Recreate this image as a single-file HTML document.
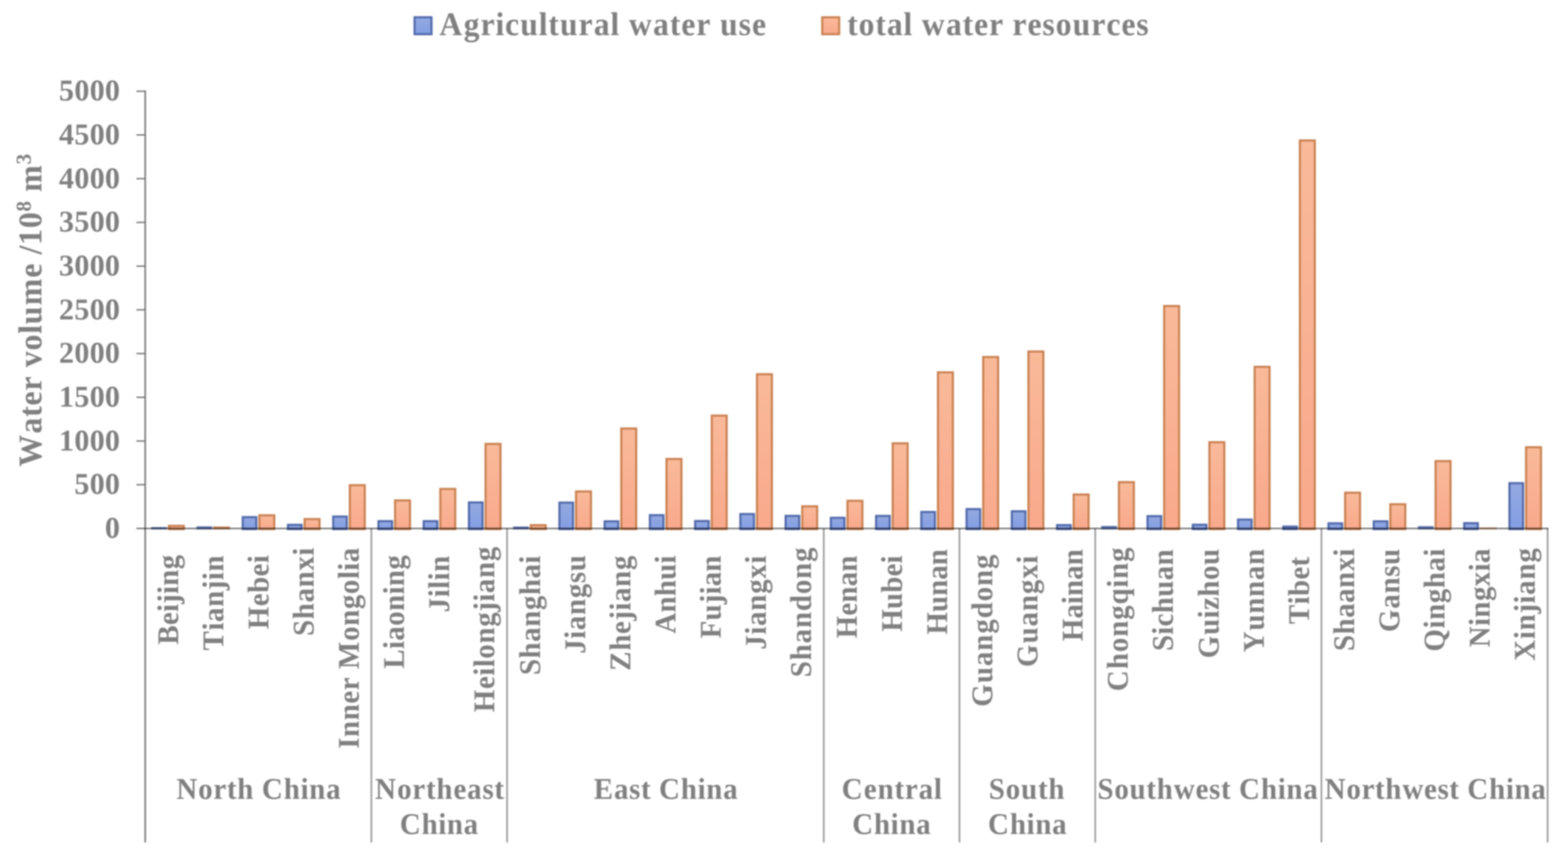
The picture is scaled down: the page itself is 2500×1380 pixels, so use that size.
<!DOCTYPE html>
<html lang="en">
<head>
<meta charset="utf-8">
<title>Agricultural water use and total water resources</title>
<style>
html,body{margin:0;padding:0;background:#fff;}
body{width:2500px;height:1380px;overflow:hidden;}
svg{display:block;position:absolute;left:0;top:0;filter:blur(1.15px);}
text{text-rendering:geometricPrecision;font-family:"Liberation Serif","Times New Roman",serif;font-weight:bold;fill:#808080;white-space:pre;}
.ax{stroke:#767676;stroke-width:2.5;fill:none;}
.sp{stroke:#969696;stroke-width:2.5;fill:none;}
.tk{stroke:#6a6a6a;stroke-width:2;fill:none;}
.bl{stroke:#707070;stroke-width:2.1;fill:none;mix-blend-mode:multiply;}
.b1{fill:url(#gb);stroke:#5169ab;stroke-width:3.3;}
.b2{fill:url(#go);stroke:#c98050;stroke-width:3.3;}
</style>
</head>
<body>
<svg width="2500" height="1380" viewBox="0 0 2500 1380">
<defs>
<linearGradient id="gb" x1="0" y1="0" x2="0" y2="1"><stop offset="0" stop-color="#93a9e0"/><stop offset="1" stop-color="#839ee3"/></linearGradient>
<linearGradient id="go" x1="0" y1="0" x2="0" y2="1"><stop offset="0" stop-color="#f9ba9a"/><stop offset="1" stop-color="#f9a98c"/></linearGradient>
</defs>
<rect x="0" y="0" width="2500" height="1380" fill="#ffffff"/>
<g>
<rect class="b1" x="661" y="27.5" width="27" height="27"/>
<text font-size="52.5" transform="translate(699.30,56.00) scale(0.960,1)" x="1.39 41.67 69.74 94.43 110.41 135.65 166.46 182.22 201.42 232.55 257.67 285.42 301.03 316.03 356.30 384.16 403.15 428.16 452.80 467.48 498.51 520.55">Agricultural water use</text>
<rect class="b2" x="1311" y="27.5" width="27" height="27"/>
<text font-size="52.5" transform="translate(1350.20,56.00) scale(0.960,1)" x="0.61 19.60 47.37 66.36 94.03 109.57 124.47 164.60 192.37 211.26 236.18 260.74 275.13 300.04 324.86 346.91 375.08 406.09 431.01 455.93 480.74">total water resources</text>
</g>
<g>
<text font-size="53" transform="translate(66.00,745.20) rotate(-90) scale(0.960,1)" x="1.41 56.53 84.21 102.96 127.74 152.24 166.55 194.47 222.07 237.97 269.41 315.37 339.87 353.87 369.69 397.61">Water volume /10</text>
<text font-size="34" transform="translate(49.00,337.38) rotate(-90)" x="0.10">8</text>
<text font-size="53" transform="translate(66.00,320.19) rotate(-90) scale(0.960,1)" x="0.35 15.13"> m</text>
<text font-size="34" transform="translate(49.00,262.14) rotate(-90)" x="0.10">3</text>
</g>
<g>
<text font-size="48" transform="translate(191.60,856.90)" x="-24.24">0</text>
<text font-size="48" transform="translate(191.60,787.23)" x="-73.20 -48.72 -24.24">500</text>
<text font-size="48" transform="translate(191.60,717.55)" x="-97.68 -73.20 -48.72 -24.24">1000</text>
<text font-size="48" transform="translate(191.60,647.88)" x="-97.68 -73.20 -48.72 -24.24">1500</text>
<text font-size="48" transform="translate(191.60,578.20)" x="-97.68 -73.20 -48.72 -24.24">2000</text>
<text font-size="48" transform="translate(191.60,508.53)" x="-97.68 -73.20 -48.72 -24.24">2500</text>
<text font-size="48" transform="translate(191.60,438.85)" x="-97.68 -73.20 -48.72 -24.24">3000</text>
<text font-size="48" transform="translate(191.60,369.18)" x="-97.68 -73.20 -48.72 -24.24">3500</text>
<text font-size="48" transform="translate(191.60,299.50)" x="-97.68 -73.20 -48.72 -24.24">4000</text>
<text font-size="48" transform="translate(191.60,229.82)" x="-97.68 -73.20 -48.72 -24.24">4500</text>
<text font-size="48" transform="translate(191.60,160.15)" x="-97.68 -73.20 -48.72 -24.24">5000</text>
</g>
<g>
<rect x="241.1" y="839.9" width="25.0" height="3.6" fill="#5169ab" fill-opacity="0.9"/>
<rect class="b2" x="269.25" y="837.95" width="23.80" height="5.15"/>
<rect x="313.2" y="838.7" width="25.0" height="4.8" fill="#5169ab" fill-opacity="0.9"/>
<rect x="339.7" y="838.9" width="27.1" height="4.6" fill="#c98050" fill-opacity="0.9"/>
<rect class="b1" x="387.01" y="824.05" width="21.70" height="19.05"/>
<rect class="b2" x="413.51" y="821.15" width="23.80" height="21.95"/>
<rect class="b1" x="459.14" y="836.35" width="21.70" height="6.75"/>
<rect class="b2" x="485.64" y="827.15" width="23.80" height="15.95"/>
<rect class="b1" x="531.27" y="823.15" width="21.70" height="19.95"/>
<rect class="b2" x="557.77" y="773.15" width="23.80" height="69.95"/>
<rect class="b1" x="603.40" y="830.45" width="21.70" height="12.65"/>
<rect class="b2" x="629.90" y="797.45" width="23.80" height="45.65"/>
<rect class="b1" x="675.53" y="830.45" width="21.70" height="12.65"/>
<rect class="b2" x="702.03" y="779.15" width="23.80" height="63.95"/>
<rect class="b1" x="747.66" y="800.65" width="21.70" height="42.45"/>
<rect class="b2" x="774.16" y="707.35" width="23.80" height="135.75"/>
<rect x="818.1" y="839.0" width="25.0" height="4.5" fill="#5169ab" fill-opacity="0.9"/>
<rect class="b2" x="846.29" y="836.85" width="23.80" height="6.25"/>
<rect class="b1" x="891.92" y="800.95" width="21.70" height="42.15"/>
<rect class="b2" x="918.42" y="783.15" width="23.80" height="59.95"/>
<rect class="b1" x="964.05" y="830.75" width="21.70" height="12.35"/>
<rect class="b2" x="990.55" y="682.85" width="23.80" height="160.25"/>
<rect class="b1" x="1036.18" y="820.95" width="21.70" height="22.15"/>
<rect class="b2" x="1062.68" y="731.35" width="23.80" height="111.75"/>
<rect class="b1" x="1108.31" y="830.25" width="21.70" height="12.85"/>
<rect class="b2" x="1134.81" y="662.25" width="23.80" height="180.85"/>
<rect class="b1" x="1180.44" y="819.15" width="21.70" height="23.95"/>
<rect class="b2" x="1206.94" y="596.35" width="23.80" height="246.75"/>
<rect class="b1" x="1252.57" y="822.05" width="21.70" height="21.05"/>
<rect class="b2" x="1279.07" y="806.85" width="23.80" height="36.25"/>
<rect class="b1" x="1324.70" y="825.15" width="21.70" height="17.95"/>
<rect class="b2" x="1351.20" y="798.05" width="23.80" height="45.05"/>
<rect class="b1" x="1396.83" y="822.15" width="21.70" height="20.95"/>
<rect class="b2" x="1423.33" y="706.45" width="23.80" height="136.65"/>
<rect class="b1" x="1468.96" y="815.85" width="21.70" height="27.25"/>
<rect class="b2" x="1495.46" y="593.35" width="23.80" height="249.75"/>
<rect class="b1" x="1541.09" y="811.25" width="21.70" height="31.85"/>
<rect class="b2" x="1567.59" y="568.95" width="23.80" height="274.15"/>
<rect class="b1" x="1613.22" y="814.75" width="21.70" height="28.35"/>
<rect class="b2" x="1639.72" y="560.15" width="23.80" height="282.95"/>
<rect class="b1" x="1685.35" y="836.75" width="21.70" height="6.35"/>
<rect class="b2" x="1711.85" y="788.05" width="23.80" height="55.05"/>
<rect x="1755.8" y="838.0" width="25.0" height="5.5" fill="#5169ab" fill-opacity="0.9"/>
<rect class="b2" x="1783.98" y="768.35" width="23.80" height="74.75"/>
<rect class="b1" x="1829.61" y="822.45" width="21.70" height="20.65"/>
<rect class="b2" x="1856.11" y="487.65" width="23.80" height="355.45"/>
<rect class="b1" x="1901.74" y="836.15" width="21.70" height="6.95"/>
<rect class="b2" x="1928.24" y="704.65" width="23.80" height="138.45"/>
<rect class="b1" x="1973.87" y="827.95" width="21.70" height="15.15"/>
<rect class="b2" x="2000.37" y="584.55" width="23.80" height="258.55"/>
<rect class="b1" x="2046.00" y="839.15" width="21.70" height="3.95"/>
<rect class="b2" x="2072.50" y="223.85" width="23.80" height="619.25"/>
<rect class="b1" x="2118.13" y="833.95" width="21.70" height="9.15"/>
<rect class="b2" x="2144.63" y="785.15" width="23.80" height="57.95"/>
<rect class="b1" x="2190.26" y="830.75" width="21.70" height="12.35"/>
<rect class="b2" x="2216.76" y="803.55" width="23.80" height="39.55"/>
<rect x="2260.7" y="838.4" width="25.0" height="5.1" fill="#5169ab" fill-opacity="0.9"/>
<rect class="b2" x="2288.89" y="734.75" width="23.80" height="108.35"/>
<rect class="b1" x="2334.52" y="833.65" width="21.70" height="9.45"/>
<rect x="2359.4" y="840.5" width="27.1" height="3.0" fill="#c98050" fill-opacity="0.7"/>
<rect class="b1" x="2406.65" y="769.95" width="21.70" height="73.15"/>
<rect class="b2" x="2433.15" y="712.65" width="23.80" height="130.45"/>
</g>
<g class="ax">
<path d="M231.5 144.1 V1342.5"/>
</g>
<g class="sp">
<path d="M592.1 842.1 V1342.5"/>
<path d="M808.5 842.1 V1342.5"/>
<path d="M1313.4 842.1 V1342.5"/>
<path d="M1529.8 842.1 V1342.5"/>
<path d="M1746.2 842.1 V1342.5"/>
<path d="M2106.9 842.1 V1342.5"/>
<path d="M2467.5 842.1 V1342.5"/>
</g>
<g class="tk">
<path d="M217.5 772.4 H231.5"/>
<path d="M217.5 702.8 H231.5"/>
<path d="M217.5 633.1 H231.5"/>
<path d="M217.5 563.4 H231.5"/>
<path d="M217.5 493.7 H231.5"/>
<path d="M217.5 424.1 H231.5"/>
<path d="M217.5 354.4 H231.5"/>
<path d="M217.5 284.7 H231.5"/>
<path d="M217.5 215.0 H231.5"/>
<path d="M217.5 145.4 H231.5"/>
</g>
<path class="bl" d="M217.5 842.1 H2468.8"/>
<g>
<text font-size="48" transform="translate(283.56,884.10) rotate(-90) scale(0.960,1)" x="-149.13 -116.61 -94.98 -81.37 -65.11 -51.40 -24.23">Beijing</text>
<text font-size="48" transform="translate(355.69,884.50) rotate(-90) scale(0.960,1)" x="-158.36 -125.29 -111.09 -85.92 -58.24 -41.58 -27.31">Tianjin</text>
<text font-size="48" transform="translate(427.82,884.50) rotate(-90) scale(0.960,1)" x="-123.17 -84.91 -62.85 -35.40 -13.55">Hebei</text>
<text font-size="48" transform="translate(499.95,872.50) rotate(-90) scale(0.960,1)" x="-146.79 -118.97 -91.22 -66.15 -38.40 -13.62">Shanxi</text>
<text font-size="48" transform="translate(572.09,872.50) rotate(-90) scale(0.960,1)" x="-334.17 -314.56 -286.77 -259.08 -236.90 -214.92 -201.74 -155.01 -129.97 -102.23 -77.25 -52.48 -38.60 -24.49">Inner Mongolia</text>
<text font-size="48" transform="translate(644.21,884.30) rotate(-90) scale(0.960,1)" x="-188.79 -156.14 -142.28 -117.61 -92.90 -65.64 -51.74 -24.34">Liaoning</text>
<text font-size="48" transform="translate(716.35,885.10) rotate(-90) scale(0.960,1)" x="-94.43 -69.54 -55.58 -41.61 -27.33">Jilin</text>
<text font-size="48" transform="translate(788.47,870.70) rotate(-90) scale(0.960,1)" x="-275.45 -236.75 -214.64 -200.68 -186.47 -161.29 -133.42 -108.49 -91.82 -77.62 -52.43 -24.56">Heilongjiang</text>
<text font-size="48" transform="translate(860.61,885.10) rotate(-90) scale(0.960,1)" x="-198.61 -170.94 -143.33 -118.41 -90.79 -65.87 -38.26 -13.58">Shanghai</text>
<text font-size="48" transform="translate(932.73,884.10) rotate(-90) scale(0.960,1)" x="-164.31 -139.42 -125.20 -100.00 -72.10 -47.09 -27.33">Jiangsu</text>
<text font-size="48" transform="translate(1004.87,884.90) rotate(-90) scale(0.960,1)" x="-191.65 -158.30 -130.52 -108.37 -91.72 -77.54 -52.39 -24.54">Zhejiang</text>
<text font-size="48" transform="translate(1076.99,885.10) rotate(-90) scale(0.960,1)" x="-129.80 -94.66 -67.55 -40.44 -13.44">Anhui</text>
<text font-size="48" transform="translate(1149.12,885.10) rotate(-90) scale(0.960,1)" x="-137.73 -108.02 -81.03 -64.84 -51.24 -26.88">Fujian</text>
<text font-size="48" transform="translate(1221.25,885.10) rotate(-90) scale(0.960,1)" x="-156.31 -131.37 -117.09 -91.81 -63.83 -38.62 -13.67">Jiangxi</text>
<text font-size="48" transform="translate(1293.38,871.70) rotate(-90) scale(0.960,1)" x="-216.29 -188.09 -159.97 -134.54 -106.35 -78.22 -52.80 -24.68">Shandong</text>
<text font-size="48" transform="translate(1365.51,885.10) rotate(-90) scale(0.960,1)" x="-137.69 -99.94 -78.30 -51.24 -26.88">Henan</text>
<text font-size="48" transform="translate(1437.64,885.10) rotate(-90) scale(0.960,1)" x="-126.58 -88.88 -61.88 -34.91 -13.41">Hubei</text>
<text font-size="48" transform="translate(1509.77,875.10) rotate(-90) scale(0.960,1)" x="-141.79 -104.36 -77.58 -50.81 -26.74">Hunan</text>
<text font-size="48" transform="translate(1581.90,882.90) rotate(-90) scale(0.960,1)" x="-253.48 -214.22 -185.99 -160.46 -132.24 -106.71 -78.48 -52.95 -24.72">Guangdong</text>
<text font-size="48" transform="translate(1654.03,885.10) rotate(-90) scale(0.960,1)" x="-185.34 -146.12 -117.93 -92.43 -64.24 -38.83 -13.73">Guangxi</text>
<text font-size="48" transform="translate(1726.16,875.10) rotate(-90) scale(0.960,1)" x="-152.79 -115.29 -91.19 -77.74 -50.91 -26.77">Hainan</text>
<text font-size="48" transform="translate(1798.29,871.70) rotate(-90) scale(0.960,1)" x="-239.28 -202.79 -174.58 -149.07 -120.86 -95.34 -67.45 -52.92 -24.72">Chongqing</text>
<text font-size="48" transform="translate(1870.42,875.10) rotate(-90) scale(0.960,1)" x="-169.25 -142.05 -128.28 -106.37 -79.00 -51.67 -27.03">Sichuan</text>
<text font-size="48" transform="translate(1942.55,874.10) rotate(-90) scale(0.960,1)" x="-182.09 -143.52 -116.06 -102.06 -79.84 -52.18 -27.21">Guizhou</text>
<text font-size="48" transform="translate(2014.68,874.10) rotate(-90) scale(0.960,1)" x="-172.27 -136.19 -108.27 -80.34 -52.48 -27.31">Yunnan</text>
<text font-size="48" transform="translate(2086.81,887.10) rotate(-90) scale(0.960,1)" x="-111.83 -79.21 -65.34 -38.00 -16.20">Tibet</text>
<text font-size="48" transform="translate(2158.94,873.90) rotate(-90) scale(0.960,1)" x="-170.43 -142.86 -115.33 -90.53 -65.70 -38.17 -13.56">Shaanxi</text>
<text font-size="48" transform="translate(2231.07,874.10) rotate(-90) scale(0.960,1)" x="-138.61 -99.88 -74.73 -47.01 -27.30">Gansu</text>
<text font-size="48" transform="translate(2303.20,873.90) rotate(-90) scale(0.960,1)" x="-171.18 -132.85 -118.72 -91.03 -66.03 -38.33 -13.60">Qinghai</text>
<text font-size="48" transform="translate(2375.34,873.90) rotate(-90) scale(0.960,1)" x="-164.14 -128.78 -114.87 -87.45 -62.76 -38.22 -24.35">Ningxia</text>
<text font-size="48" transform="translate(2447.46,872.90) rotate(-90) scale(0.960,1)" x="-187.60 -151.62 -137.18 -109.31 -92.51 -78.15 -52.75 -24.66">Xinjiang</text>
</g>
<g>
<text font-size="48" transform="translate(412.02,1273.00) scale(0.960,1)" x="-136.22 -99.94 -74.70 -52.37 -35.21 -7.45 5.84 42.19 69.99 84.42 112.51">North China</text>
<text font-size="48" transform="translate(700.50,1273.00) scale(0.960,1)" x="-106.73 -70.17 -44.71 -22.20 -4.84 23.40 46.17 71.55 91.34">Northeast</text>
<text font-size="48" transform="translate(699.74,1329.00) scale(0.960,1)" x="-64.93 -28.75 -1.07 13.25 41.19">China</text>
<text font-size="48" transform="translate(1061.29,1273.00) scale(0.960,1)" x="-119.34 -85.81 -60.66 -41.04 -24.30 -11.03 25.29 53.07 67.49 95.56">East China</text>
<text font-size="48" transform="translate(1421.59,1273.00) scale(0.960,1)" x="-82.81 -46.24 -23.31 4.84 22.09 44.93 70.20">Central</text>
<text font-size="48" transform="translate(1421.10,1329.00) scale(0.960,1)" x="-65.06 -28.80 -1.06 13.32 41.34">China</text>
<text font-size="48" transform="translate(1636.83,1273.00) scale(0.960,1)" x="-62.94 -34.67 -9.09 18.93 36.24">South</text>
<text font-size="48" transform="translate(1637.84,1329.00) scale(0.960,1)" x="-65.16 -28.83 -1.05 13.38 41.45">China</text>
<text font-size="48" transform="translate(1925.35,1273.00) scale(0.960,1)" x="-182.91 -154.82 -129.42 -101.55 -84.39 -56.00 -19.79 2.62 22.25 39.01 52.30 88.65 116.45 130.89 158.99">Southwest China</text>
<text font-size="48" transform="translate(2288.20,1273.00) scale(0.960,1)" x="-183.47 -147.30 -122.13 -99.87 -82.78 -54.51 -18.40 3.93 23.50 40.21 53.41 89.65 117.38 131.75 159.75">Northwest China</text>
</g>
</svg>
</body>
</html>
